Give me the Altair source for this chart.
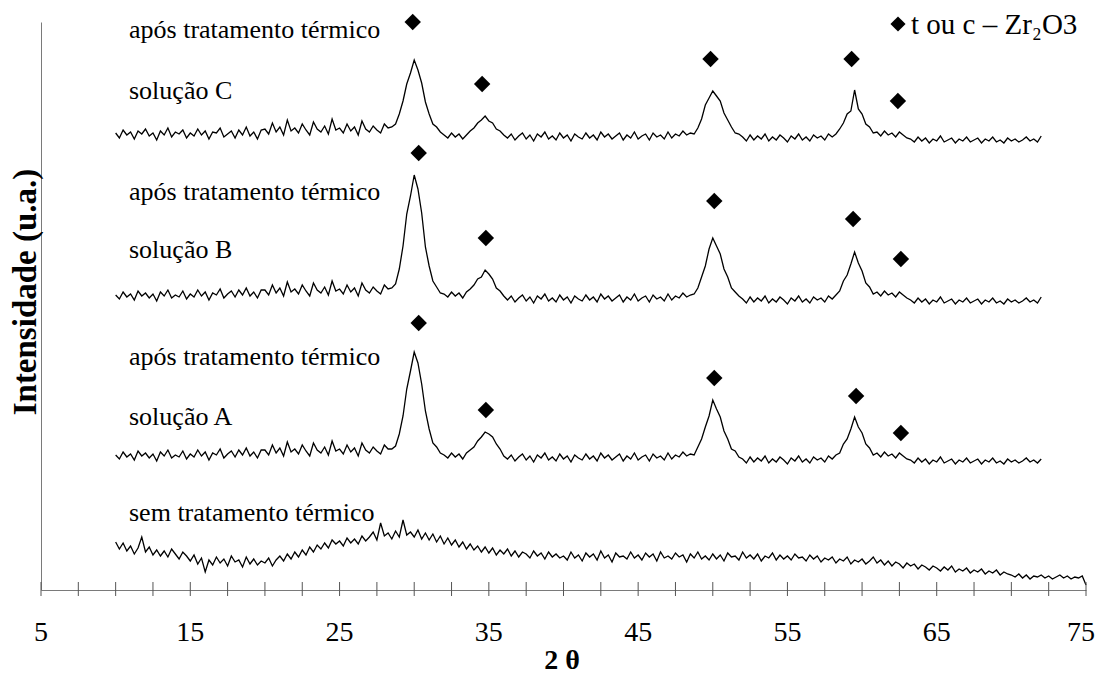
import altair as alt
import pandas as pd

# ---------------- data ----------------
STEP = 0.25
START_ABC = 10.0
START_SEM = 10.0

# Solution C (after heat treatment), 10 -> 72 deg, step 0.25
sol_c = [
    457,452,460,455,458,451,459,456,461,454, 457,450,459,455,462,453,458,456,460,452,
    457,454,461,455,459,451,458,457,462,453, 456,459,452,460,455,463,454,458,451,460,
    461,456,467,458,463,455,470,459,462,457, 466,460,455,468,461,458,464,456,471,460,
    462,457,466,459,463,455,469,461,458,464, 460,457,466,462,
    463,466,476,489,506,517,530,520,507,488,476,466,463,458,
    455,452,457,453,456,451,455,459,
    462,467,470,474,469,467,461,459,455,
    452,456,450,454,457,451,455,449,456,453, 458,451,454,450,457,452,455,449,456,453,
    451,457,452,455,450,458,453,456,451,454, 457,450,455,452,458,451,454,456,450,457,
    453,455,451,458,452,456,454,459,455,457,
    456,462,471,485,492,499,494,489,477,470,463,457,456,
    453,449,455,450,454,451,456,449,453,450, 455,452,448,454,451,456,450,453,449,455,
    452,454,450,456,453,
    456,461,467,476,479,500,481,476,466,463,457,
    458,454,459,455,457,453,458,455,452,
    451,448,453,449,452,447,451,449,454,448, 450,452,447,451,449,453,448,450,452,447,
    451,449,453,448,450,447,452,449,451,448, 450,453,449,451,448,454,
]

# Solution B (after heat treatment)
sol_b = [
    295,291,298,293,296,290,299,294,297,292, 296,289,298,294,300,292,295,293,299,291,
    296,293,300,294,298,290,297,295,301,292, 296,299,293,300,295,302,294,298,292,300,
    300,295,305,297,302,294,308,298,301,296, 305,299,294,307,300,297,303,295,309,299,
    301,296,305,298,302,294,307,300,297,303, 299,296,305,301,
    302,306,321,344,376,394,415,401,377,343,324,309,303,297,
    296,293,298,294,297,292,298,301,
    305,311,313,320,316,311,302,299,294,
    290,294,288,292,295,289,293,287,294,291, 296,289,292,288,295,290,293,287,294,291,
    289,295,290,293,288,296,291,294,289,292, 295,288,293,290,296,289,292,294,288,295,
    291,293,289,296,290,294,292,297,293,295,
    296,302,313,324,341,352,344,336,321,313,302,298,294,
    291,287,293,288,292,289,294,287,291,288, 293,290,286,292,289,294,288,291,287,293,
    290,292,288,294,291,
    295,299,309,315,326,338,327,319,307,303,296,
    298,294,299,295,297,293,298,295,292,
    290,287,292,288,291,286,290,288,293,287, 289,291,286,290,288,292,287,289,291,286,
    290,288,292,287,289,286,291,288,290,287, 289,292,288,290,287,293,
]

# Solution A (after heat treatment)
sol_a = [
    135,131,138,133,136,130,139,134,137,132, 136,129,138,134,140,132,135,133,139,131,
    136,133,140,134,138,130,137,135,141,132, 136,139,133,140,135,142,134,138,132,140,
    140,135,145,137,142,134,148,138,141,136, 145,139,134,147,140,137,143,135,149,139,
    141,136,145,138,142,134,147,140,137,143, 139,136,145,141,
    141,144,156,174,201,219,238,227,206,179,161,147,143,137,
    135,132,137,133,136,131,137,140,
    143,149,153,158,156,153,146,141,134,
    131,135,129,133,136,130,134,128,135,132, 137,130,133,129,136,131,134,128,135,132,
    130,136,131,134,129,137,132,135,130,133, 136,129,134,131,137,130,133,135,129,136,
    132,134,130,137,131,135,133,138,134,136,
    135,143,151,163,174,190,181,173,159,151,141,139,133,
    131,127,133,128,132,129,134,127,131,128, 133,130,126,132,129,134,128,131,127,133,
    130,132,128,134,131,
    135,137,146,151,161,173,163,157,146,142,135,
    137,133,138,134,136,132,137,134,131,
    130,127,132,128,131,126,130,128,133,127, 129,131,126,130,128,132,127,129,131,126,
    130,128,132,127,129,126,131,128,130,127, 129,132,128,130,127,131,
]

# Without heat treatment, 10 -> 75 deg
sem = [
    48,41,47,39,44,36,42,53,38,43, 35,40,34,39,33,41,36,31,38,34,
    29,35,26,32,18,30,25,33,27,31, 24,34,28,30,23,33,26,31,25,29,
    27,32,24,30,34,29,36,31,38,33, 40,35,43,38,45,41,47,42,50,46,
    49,44,52,47,51,46,54,49,53,58, 50,67,54,57,51,59,53,70,55,58,
    53,60,51,57,50,56,48,54,46,52, 45,50,43,48,41,46,40,44,38,43,
    37,42,35,40,36,41,34,39,33,38, 36,32,39,34,37,31,38,33,36,32,
    34,30,38,32,35,29,37,33,36,30, 39,32,35,28,37,33,34,31,38,32,
    35,30,37,33,36,29,38,32,34,31, 37,33,35,28,36,32,38,31,34,30,
    36,31,35,29,37,33,34,30,38,32, 35,31,36,29,34,32,37,30,35,31,
    34,30,36,32,33,29,35,31,34,28, 32,30,33,27,31,29,33,26,30,28,
    31,26,29,33,27,30,25,29,24,28, 26,22,27,24,26,21,25,23,20,24,
    22,19,23,20,24,18,21,19,22,17, 20,18,21,16,19,17,20,15,18,16,
    15,13,16,12,15,11,14,13,15,12, 14,11,13,15,12,14,11,13,12,14,
    5,
]

# peak markers (t or c - ZrO2 phase)
marker_2theta = [29.9, 34.55, 49.85, 59.3, 62.4,
                 30.3, 34.8, 50.1, 59.4, 62.6,
                 30.3, 34.8, 50.1, 59.6, 62.6]
marker_int = [568, 506, 531, 531, 489,
              437, 352, 389, 371, 331,
              267, 180, 212, 194, 157]

tick_values = [5 + 2.5 * i for i in range(29)]
label_values = [5, 15, 25, 35, 45, 55, 65]
last_label = [75]

# ---------------- build table ----------------
rows = []
for name, vals, start in [("C", sol_c, START_ABC), ("B", sol_b, START_ABC),
                          ("A", sol_a, START_ABC), ("sem", sem, START_SEM)]:
    for i, v in enumerate(vals):
        rows.append({"serie": name, "x": start + STEP * i, "y": v})
df = pd.DataFrame(rows)
mk = pd.DataFrame({"x": marker_2theta, "y": marker_int})
ticks = pd.DataFrame({"x": tick_values})
labs = pd.DataFrame({"x": label_values})
labs_end = pd.DataFrame({"x": last_label})
one = pd.DataFrame({"k": [0]})

W, H = 1045, 568
FONT = "Liberation Serif"

xs = alt.Scale(domain=[5, 75], nice=False, zero=False)
ys = alt.Scale(domain=[0, 568], nice=False, zero=False)

lines = alt.Chart(df).mark_line(color="black", strokeWidth=1.3).encode(
    x=alt.X("x:Q", scale=xs,
            axis=alt.Axis(title=None, labels=False, ticks=False, grid=False,
                          domainColor="#7a7a7a")),
    y=alt.Y("y:Q", scale=ys,
            axis=alt.Axis(title=None, labels=False, ticks=False, grid=False,
                          domainColor="#7a7a7a")),
    detail="serie:N",
)

points = alt.Chart(mk).mark_point(shape="diamond", filled=True, color="black",
                                  size=270, opacity=1).encode(
    x=alt.X("x:Q", scale=xs), y=alt.Y("y:Q", scale=ys))

tick_rules = alt.Chart(ticks).mark_rule(color="#555", strokeWidth=1).encode(
    x=alt.X("x:Q", scale=xs), y=alt.value(H - 8), y2=alt.value(H + 6))

tick_labels = alt.Chart(labs).mark_text(font=FONT, fontSize=28, color="black",
                                        baseline="middle", align="center").encode(
    x=alt.X("x:Q", scale=xs), y=alt.value(H + 43), text=alt.Text("x:Q", format="d"))
tick_label_end = alt.Chart(labs_end).mark_text(font=FONT, fontSize=28, color="black",
                                               baseline="middle", align="center",
                                               dx=-5).encode(
    x=alt.X("x:Q", scale=xs), y=alt.value(H + 43), text=alt.Text("x:Q", format="d"))

layers = [lines, tick_rules, points, tick_labels, tick_label_end]

texts = [
    ("após tratamento térmico", 88, 8),
    ("solução C", 88, 69),
    ("após tratamento térmico", 88, 170),
    ("solução B", 88, 228),
    ("após tratamento térmico", 88, 335),
    ("solução A", 88, 395),
    ("sem tratamento térmico", 88, 491),
]
for t, px, py in texts:
    layers.append(alt.Chart(one).mark_text(text=t, font=FONT, fontSize=26, align="left",
                                            fontWeight="normal",
                                            baseline="middle", color="black").encode(
        x=alt.value(px), y=alt.value(py)))

# legend
layers.append(alt.Chart(one).mark_point(shape="diamond", filled=True, color="black",
                                         size=230, opacity=1).encode(
    x=alt.value(857), y=alt.value(2)))
layers.append(alt.Chart(one).mark_text(text="t ou c – Zr₂O3", font=FONT, fontSize=29,
                                        fontWeight="normal",
                                        align="left", baseline="middle", color="black").encode(
    x=alt.value(870), y=alt.value(3)))

# axis titles
layers.append(alt.Chart(one).mark_text(text="Intensidade (u.a.)", font=FONT, fontSize=33,
                                        fontWeight="bold", angle=270, align="center",
                                        baseline="middle", color="black").encode(
    x=alt.value(-15), y=alt.value(270)))
layers.append(alt.Chart(one).mark_text(text="2 θ", font=FONT, fontSize=28, fontWeight="bold",
                                        align="center", baseline="middle", color="black").encode(
    x=alt.value(521), y=alt.value(H + 71)))

chart = alt.layer(*layers).properties(
    width=W, height=H,
    padding={"left": 33, "top": 14, "right": 10, "bottom": 89},
    autosize=alt.AutoSizeParams(type="none"),
).configure_view(strokeWidth=0)

chart.save("out.html", embed_options={"renderer": "svg", "actions": False})
